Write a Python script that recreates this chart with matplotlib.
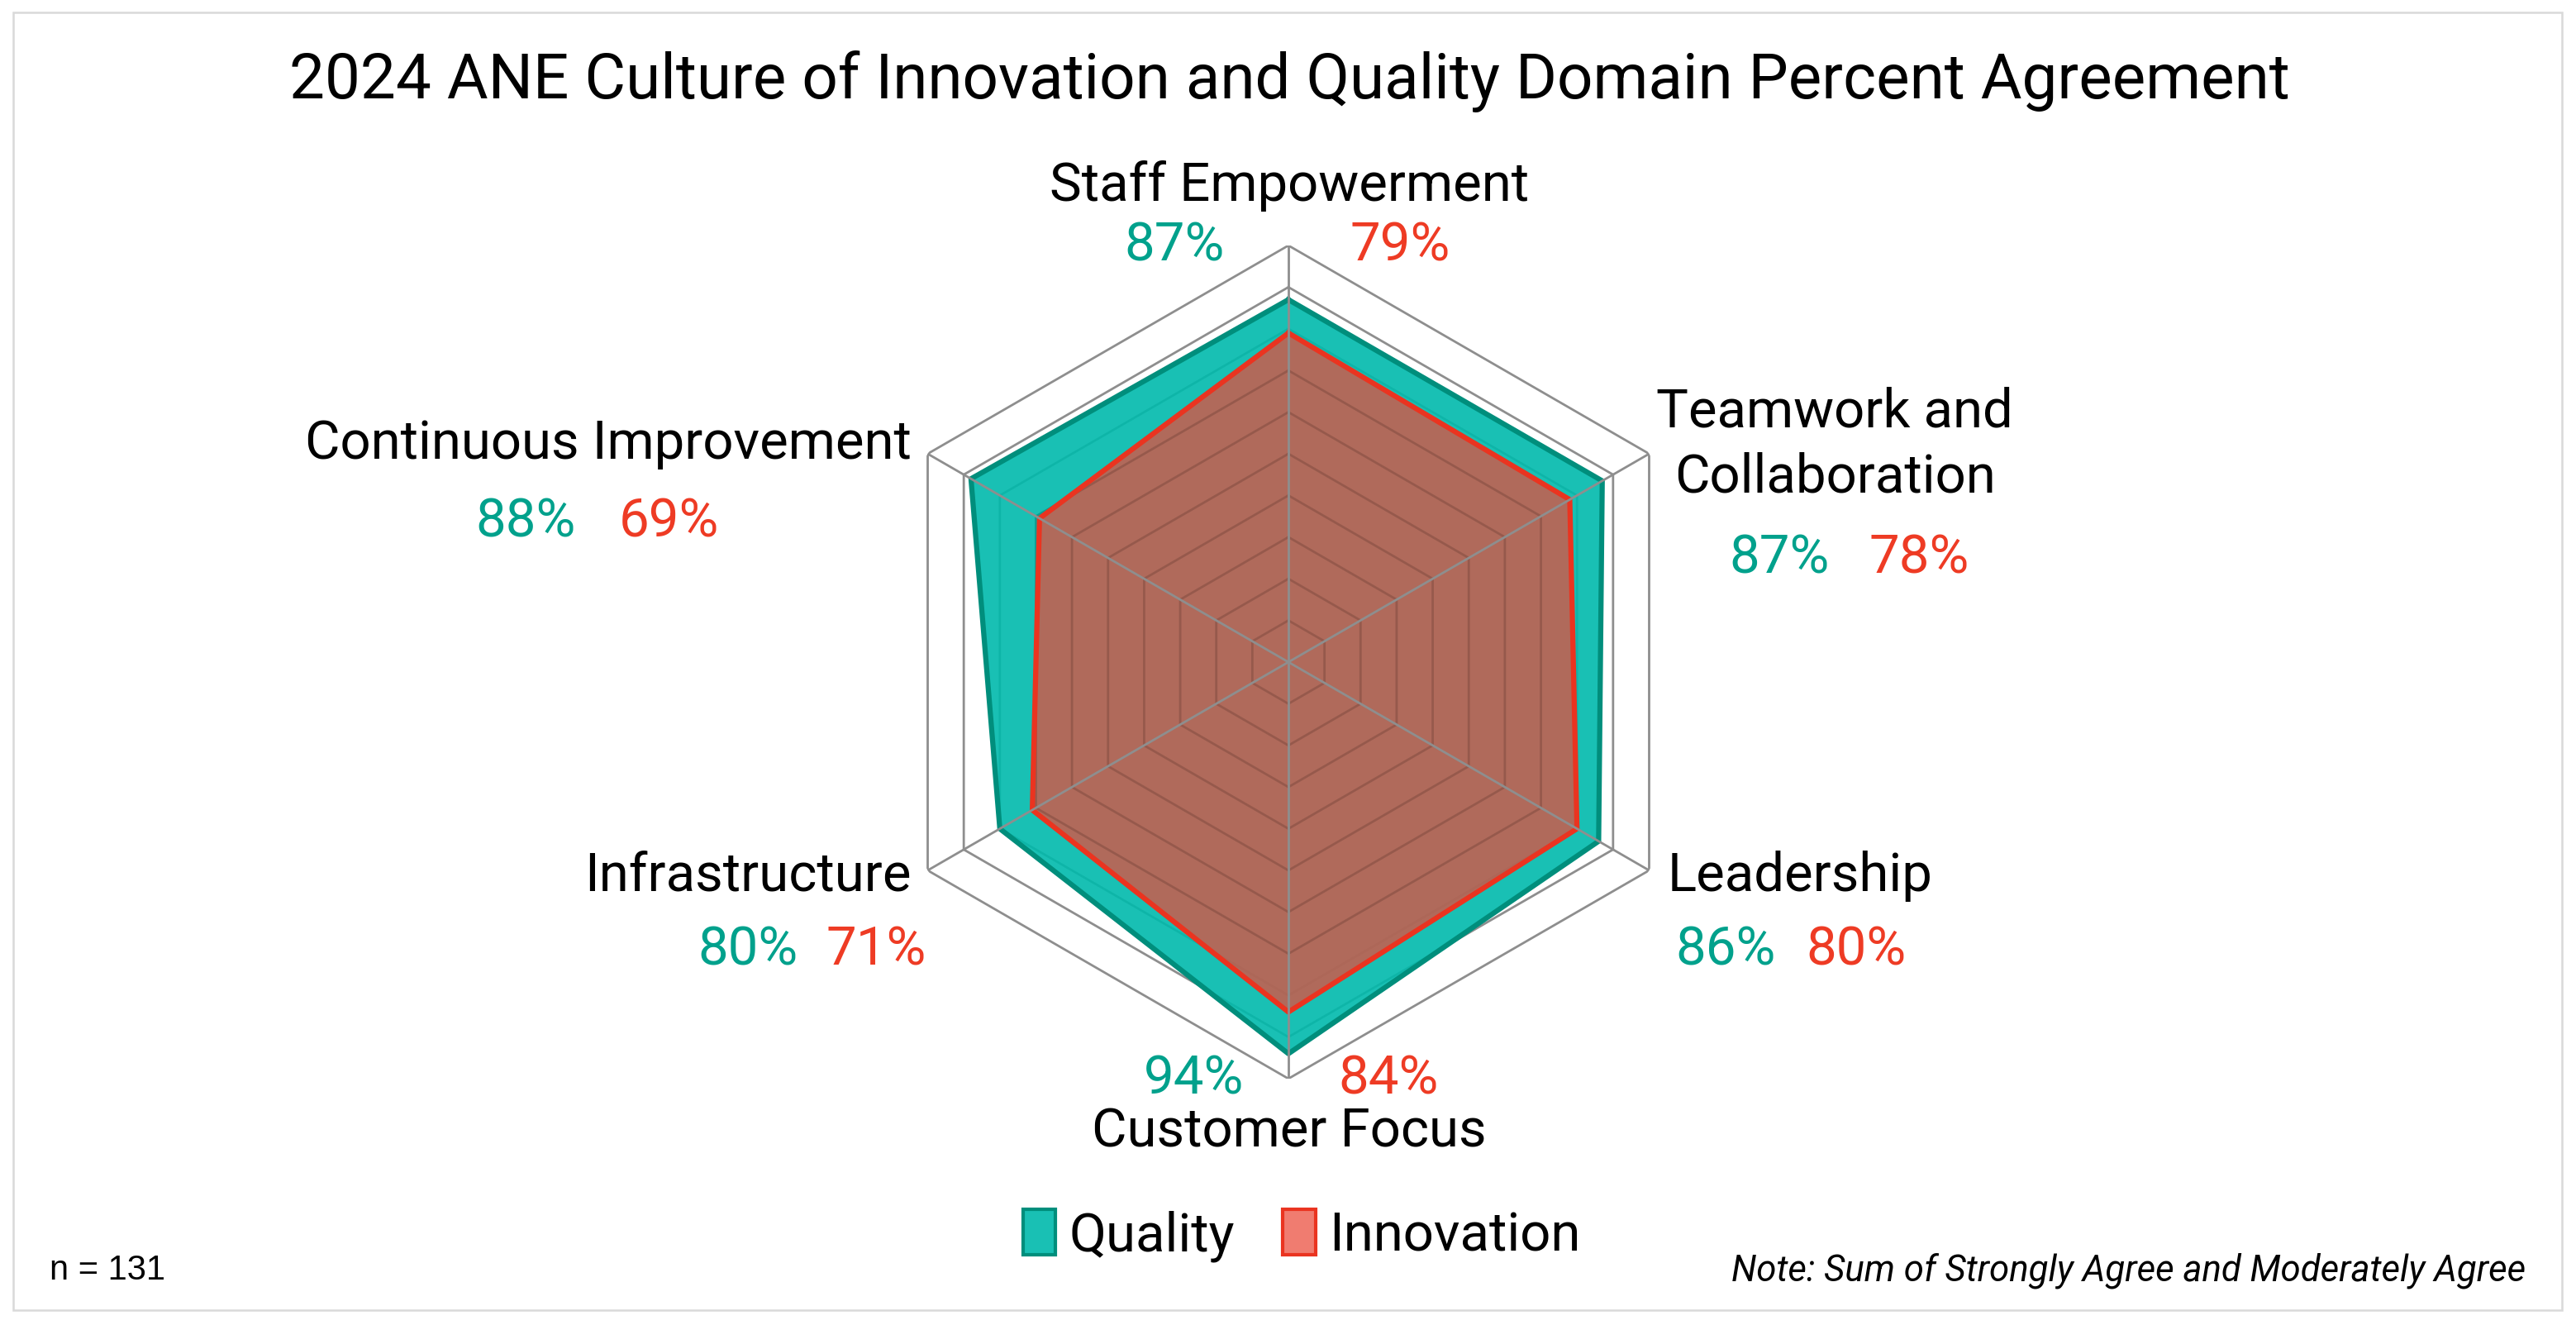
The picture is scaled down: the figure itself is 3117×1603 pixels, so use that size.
import numpy as np
import matplotlib.pyplot as plt
from matplotlib.patches import Patch, Rectangle

# data (clockwise from the top)
categories = ['Staff Empowerment', 'Teamwork and\nCollaboration', 'Leadership',
              'Customer Focus', 'Infrastructure', 'Continuous Improvement']
quality = [87, 87, 86, 94, 80, 88]
innovation = [79, 78, 80, 84, 71, 69]
ring_levels = [10, 20, 30, 40, 50, 60, 70, 80, 90, 100]

W, H = 3117, 1603
teal_fill = (0 / 255, 186 / 255, 172 / 255, 0.9)
teal_edge = '#008E7C'
teal_text = '#00A18C'
red_fill = (235 / 255, 73 / 255, 57 / 255, 0.72)
red_edge = '#EA3420'
red_text = '#EE3B24'
grid_col = '#8E8E8E'

plt.rcParams['font.family'] = ['Roboto', 'DejaVu Sans']

fig = plt.figure(figsize=(W / 100, H / 100), dpi=100)


def fx(x):
    return x / W


def fy(y):
    return 1 - y / H


# outer frame of the chart area
fig.patches.append(Rectangle((fx(16), fy(1585)), fx(3100) - fx(16), fy(15) - fy(1585),
                             transform=fig.transFigure, fill=False,
                             edgecolor='#D9D9D9', lw=1.8, zorder=0))

cx, cy, rad = 1559, 801, 504
ax = fig.add_axes([fx(cx - rad), fy(cy + rad), 2 * rad / W, 2 * rad / H], projection='polar')
ax.set_theta_offset(np.pi / 2)
ax.set_theta_direction(-1)
ax.set_ylim(0, 100)
ax.set_xticks([])
ax.set_yticks([])
ax.grid(False)
ax.spines['polar'].set_visible(False)
ax.patch.set_alpha(0)

n = len(categories)
ang = np.linspace(0, 2 * np.pi, n, endpoint=False)
ang_c = np.append(ang, ang[0])

# hexagonal rings
for lvl in ring_levels:
    ax.plot(ang_c, [lvl] * (n + 1), color=grid_col, lw=2.0, zorder=1)

q_c = np.append(quality, quality[0])
i_c = np.append(innovation, innovation[0])
ax.fill(ang_c, q_c, color=teal_fill, lw=0, zorder=2)
ax.plot(ang_c, q_c, color=teal_edge, lw=4.5, zorder=3)
ax.fill(ang_c, i_c, color=red_fill, lw=0, zorder=4)

# rings showing through the see-through fills
for lvl in ring_levels:
    if lvl < min(quality):
        ax.plot(ang_c, [lvl] * (n + 1), color=(0, 0, 0, 0.13), lw=2.0, zorder=4.5)

ax.plot(ang_c, i_c, color=red_edge, lw=4.5, zorder=5)

# spokes on top
for a in ang:
    ax.plot([a, a], [0, 100], color=grid_col, lw=2.0, zorder=6)

# title
fig.text(fx(1560), fy(99), '2024 ANE Culture of Innovation and Quality Domain Percent Agreement',
         ha='center', va='center', fontsize=55, color='black')

# category labels: (x, y, ha)
label_pos = [(1560, 225, 'center'), (2220, 538, 'center'), (2018, 1060, 'left'),
             (1560, 1370, 'center'), (1103, 1060, 'right'), (1103, 537, 'right')]
for name, (x, y, ha) in zip(categories, label_pos):
    fig.text(fx(x), fy(y), name, ha=ha, va='center', fontsize=47,
             color='black', linespacing=1.36)

# value labels: quality (x, y) and innovation (x, y)
q_pos = [(1421, 298), (2153, 676), (2088, 1149), (1445, 1306), (905, 1149), (636, 632)]
i_pos = [(1694, 298), (2322, 676), (2246, 1149), (1680, 1306), (1060, 1149), (809, 632)]
for v, (x, y) in zip(quality, q_pos):
    fig.text(fx(x), fy(y), f'{v}%', ha='center', va='center', fontsize=47, color=teal_text)
for v, (x, y) in zip(innovation, i_pos):
    fig.text(fx(x), fy(y), f'{v}%', ha='center', va='center', fontsize=47, color=red_text)

handles = [Patch(facecolor=teal_fill, edgecolor=teal_edge, lw=3),
           Patch(facecolor=red_fill, edgecolor=red_edge, lw=3)]
fig.legend(handles, ['Quality', 'Innovation'], loc='center',
           bbox_to_anchor=(fx(1575), fy(1495)), ncol=2, frameon=False, fontsize=47,
           handlelength=0.6, handleheight=0.9, columnspacing=0.9, handletextpad=0.25)

fig.text(fx(60), fy(1537), 'n = 131', ha='left', va='center', fontsize=30,
         family=['Liberation Sans', 'DejaVu Sans'])
fig.text(fx(3056), fy(1537), 'Note: Sum of Strongly Agree and Moderately Agree',
         ha='right', va='center', fontsize=31.5, style='italic')

fig.savefig('out.png', dpi=100, facecolor='white')
